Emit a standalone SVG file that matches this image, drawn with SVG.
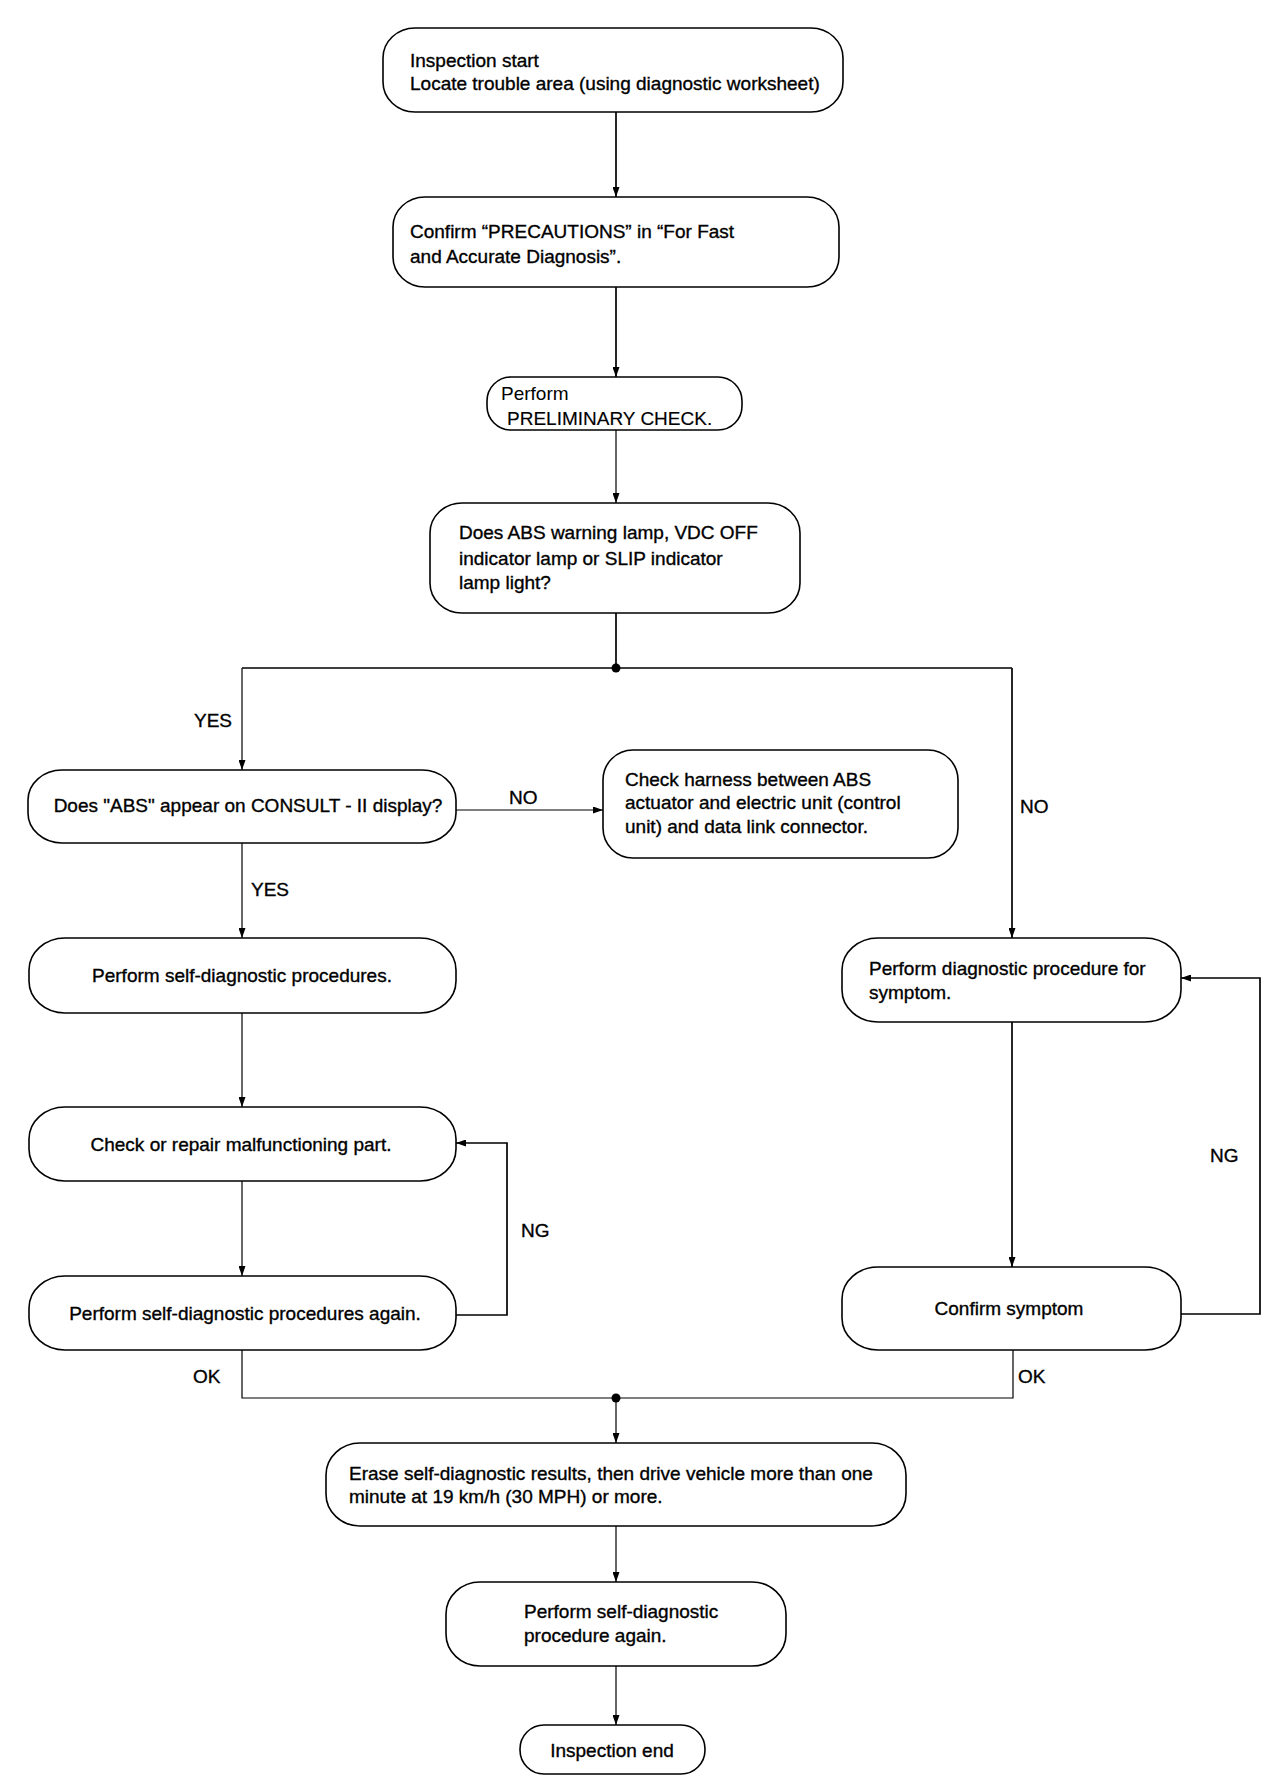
<svg xmlns="http://www.w3.org/2000/svg" width="1280" height="1790" viewBox="0 0 1280 1790">
<style>
.box{fill:#fff;stroke:#000;stroke-width:1.6}
.t{font-family:"Liberation Sans",Arial,sans-serif;font-size:19px;fill:#000;stroke:#000;stroke-width:0.35}
.m{text-anchor:middle}
.c{fill:none;stroke:#000;stroke-width:1.7}
.thin{fill:none;stroke:#000;stroke-width:1.2}
</style>
<defs>
<marker id="ah" markerUnits="userSpaceOnUse" markerWidth="10" markerHeight="7" refX="10" refY="3.5" orient="auto">
<path d="M0,0 L10,3.5 L0,7 z" fill="#000"/>
</marker>
</defs>
<rect width="1280" height="1790" fill="#fff"/>

<g id="connectors">
<line class="c" x1="616" y1="112" x2="616" y2="197" marker-end="url(#ah)"/>
<line class="c" x1="616" y1="287" x2="616" y2="377" marker-end="url(#ah)"/>
<line class="thin" x1="616" y1="430" x2="616" y2="503" marker-end="url(#ah)"/>
<line class="c" x1="616" y1="613" x2="616" y2="668"/>
<line class="c" x1="242" y1="668" x2="1012" y2="668"/>
<circle cx="616" cy="668" r="4.5" fill="#000"/>
<line class="thin" x1="242" y1="668" x2="242" y2="770" marker-end="url(#ah)"/>
<line class="c" x1="1012" y1="668" x2="1012" y2="938" marker-end="url(#ah)"/>
<line class="thin" x1="456" y1="810" x2="603" y2="810" marker-end="url(#ah)"/>
<line class="thin" x1="242" y1="843" x2="242" y2="938" marker-end="url(#ah)"/>
<line class="thin" x1="242" y1="1013" x2="242" y2="1107" marker-end="url(#ah)"/>
<line class="thin" x1="242" y1="1181" x2="242" y2="1276" marker-end="url(#ah)"/>
<polyline class="c" points="456,1315 507,1315 507,1143 456,1143" marker-end="url(#ah)"/>
<line class="c" x1="1012" y1="1022" x2="1012" y2="1267" marker-end="url(#ah)"/>
<polyline class="c" points="1181,1314 1260,1314 1260,978 1181,978" marker-end="url(#ah)"/>
<polyline class="thin" points="242,1350 242,1398 1013,1398 1013,1350"/>
<circle cx="616" cy="1398" r="4.5" fill="#000"/>
<line class="thin" x1="616" y1="1398" x2="616" y2="1443" marker-end="url(#ah)"/>
<line class="thin" x1="616" y1="1526" x2="616" y2="1582" marker-end="url(#ah)"/>
<line class="thin" x1="616" y1="1666" x2="616" y2="1725" marker-end="url(#ah)"/>
<text class="t" x="194" y="727">YES</text>
<text class="t" x="509" y="804">NO</text>
<text class="t" x="1020" y="813">NO</text>
<text class="t" x="251" y="896">YES</text>
<text class="t" x="521" y="1237">NG</text>
<text class="t" x="1210" y="1162">NG</text>
<text class="t" x="193" y="1383">OK</text>
<text class="t" x="1018" y="1383">OK</text>
</g>

<g id="n1">
<rect class="box" x="383" y="28" width="460" height="84" rx="32" ry="30"/>
<text class="t" x="410" y="67">Inspection start</text>
<text class="t" x="410" y="90">Locate trouble area (using diagnostic worksheet)</text>
</g>
<g id="n2">
<rect class="box" x="393" y="197" width="446" height="90" rx="32" ry="30"/>
<text class="t" x="410" y="238">Confirm “PRECAUTIONS” in “For Fast</text>
<text class="t" x="410" y="263">and Accurate Diagnosis”.</text>
</g>
<g id="n3">
<rect class="box" x="487" y="377" width="255" height="53" rx="24" ry="24"/>
<text class="t" x="501" y="400" style="stroke-width:0">Perform</text>
<text class="t" x="507" y="425" style="stroke-width:0.15">PRELIMINARY CHECK.</text>
</g>
<g id="n4">
<rect class="box" x="430" y="503" width="370" height="110" rx="32" ry="30"/>
<text class="t" x="459" y="539">Does ABS warning lamp, VDC OFF</text>
<text class="t" x="459" y="565">indicator lamp or SLIP indicator</text>
<text class="t" x="459" y="589">lamp light?</text>
</g>
<g id="n5">
<rect class="box" x="28" y="770" width="428" height="73" rx="34" ry="30"/>
<text class="t m" x="248" y="812">Does "ABS" appear on CONSULT - II display?</text>
</g>
<g id="n6">
<rect class="box" x="603" y="750" width="355" height="108" rx="30" ry="30"/>
<text class="t" x="625" y="786">Check harness between ABS</text>
<text class="t" x="625" y="809">actuator and electric unit (control</text>
<text class="t" x="625" y="833">unit) and data link connector.</text>
</g>
<g id="n7">
<rect class="box" x="29" y="938" width="427" height="75" rx="36" ry="32"/>
<text class="t m" x="242" y="982">Perform self-diagnostic procedures.</text>
</g>
<g id="n8">
<rect class="box" x="29" y="1107" width="427" height="74" rx="36" ry="32"/>
<text class="t m" x="241" y="1151">Check or repair malfunctioning part.</text>
</g>
<g id="n9">
<rect class="box" x="29" y="1276" width="427" height="74" rx="36" ry="32"/>
<text class="t m" x="245" y="1320">Perform self-diagnostic procedures again.</text>
</g>
<g id="n10">
<rect class="box" x="842" y="938" width="339" height="84" rx="36" ry="32"/>
<text class="t" x="869" y="975">Perform diagnostic procedure for</text>
<text class="t" x="869" y="999">symptom.</text>
</g>
<g id="n11">
<rect class="box" x="842" y="1267" width="339" height="83" rx="36" ry="32"/>
<text class="t m" x="1009" y="1315">Confirm symptom</text>
</g>
<g id="n12">
<rect class="box" x="326" y="1443" width="580" height="83" rx="34" ry="32"/>
<text class="t" x="349" y="1480">Erase self-diagnostic results, then drive vehicle more than one</text>
<text class="t" x="349" y="1503">minute at 19 km/h (30 MPH) or more.</text>
</g>
<g id="n13">
<rect class="box" x="446" y="1582" width="340" height="84" rx="34" ry="32"/>
<text class="t" x="524" y="1618">Perform self-diagnostic</text>
<text class="t" x="524" y="1642">procedure again.</text>
</g>
<g id="n14">
<rect class="box" x="520" y="1725" width="185" height="49" rx="24" ry="24"/>
<text class="t m" x="612" y="1757">Inspection end</text>
</g>
</svg>
